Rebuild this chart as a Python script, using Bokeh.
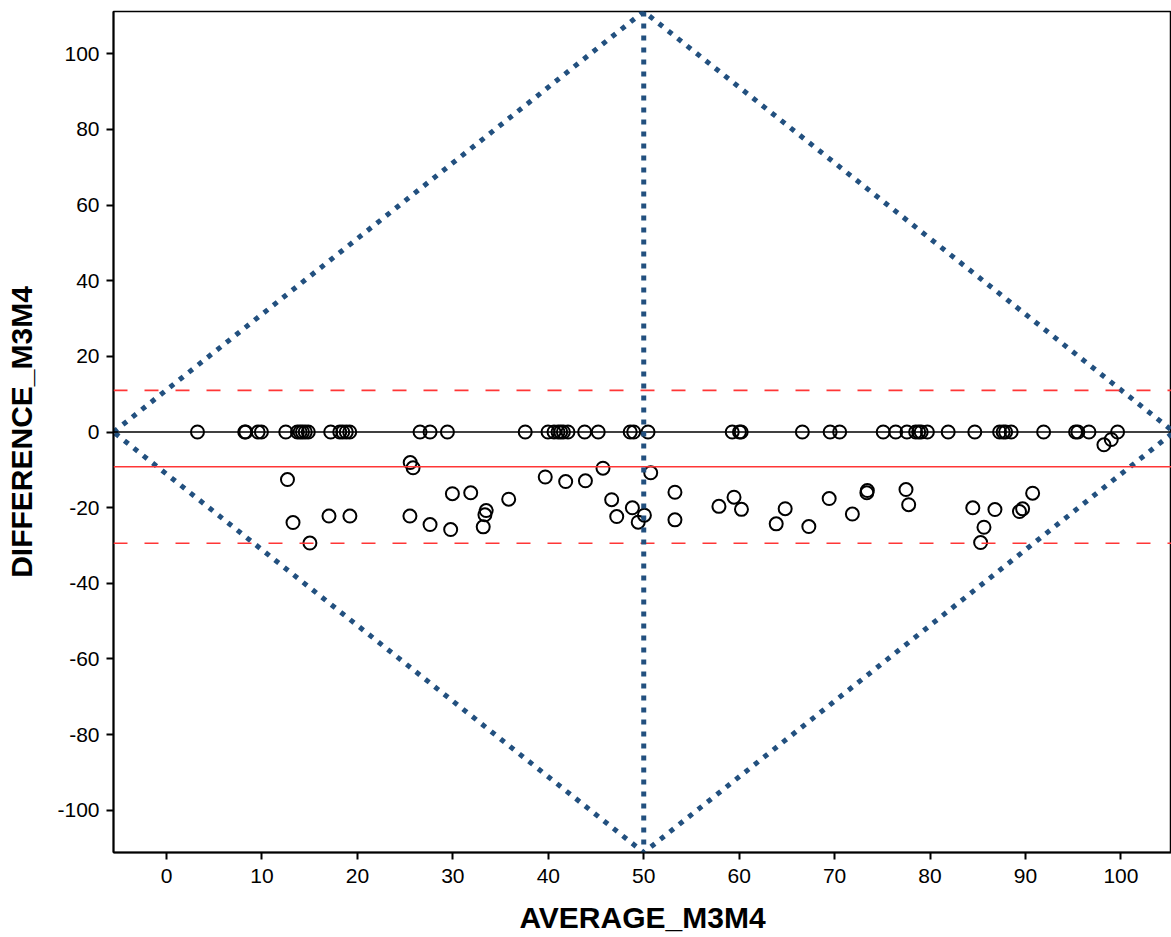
from bokeh.plotting import figure
from bokeh.models import Span, FixedTicker, Range1d, PrintfTickFormatter
from bokeh.embed import file_html
from bokeh.resources import INLINE

# ---- data ----
avg_zero = [3.24, 8.19, 8.30, 9.59, 9.94, 12.49, 13.71, 13.99, 14.24, 14.53, 14.85,
            17.20, 18.15, 18.46, 18.83, 19.19, 26.56, 27.61, 29.43, 37.58, 39.97,
            40.60, 41.02, 41.30, 41.58, 42.06, 43.81, 45.23, 48.58, 48.95, 50.45,
            59.27, 60.03, 60.21, 66.62, 69.53, 70.53, 75.09, 76.40, 77.58, 78.49,
            78.81, 79.07, 79.72, 81.90, 84.69, 87.29, 87.66, 87.92, 88.50, 91.90,
            95.25, 95.49, 96.65, 99.65]
diff_zero = [0.0] * len(avg_zero)

avg_other = [98.22, 98.99,
             12.67, 13.25, 15.02, 17.02, 19.21, 25.53, 25.83, 25.50, 27.61, 29.77,
             29.95, 31.87, 33.49, 33.36, 33.18, 35.85, 39.68, 41.82, 43.89, 45.73,
             46.64, 47.17, 48.81, 49.42, 50.07, 50.73, 53.27, 53.27, 57.88, 59.46,
             60.24, 63.88, 64.82, 67.30, 69.43, 71.86, 73.43, 73.38, 77.48, 77.76,
             84.48, 85.65, 85.30, 86.80, 89.37, 89.70, 90.75]
diff_other = [-3.39, -1.98,
              -12.57, -23.94, -29.37, -22.22, -22.22, -8.07, -9.47, -22.22, -24.47, -25.79,
              -16.32, -16.08, -20.77, -21.90, -25.08, -17.78, -11.90, -13.10, -12.91, -9.58,
              -17.91, -22.35, -20.05, -23.86, -22.01, -10.79, -15.93, -23.23, -19.66, -17.25,
              -20.45, -24.29, -20.29, -25.00, -17.59, -21.69, -15.48, -16.08, -15.21, -19.23,
              -20.05, -25.19, -29.23, -20.50, -21.03, -20.32, -16.19]

mean_diff = -9.2
upper_loa = 11.0
lower_loa = -29.4

diamond_x = [-5.56, 50.0, 105.56, 50.0, -5.56]
diamond_y = [0.0, 111.2, 0.0, -111.2, 0.0]
center_x = 50.0

x_ticks = [0, 10, 20, 30, 40, 50, 60, 70, 80, 90, 100]
y_ticks = [-100, -80, -60, -40, -20, 0, 20, 40, 60, 80, 100]

FONT = "Liberation Sans"
BLUE = "#22507f"
RED = "#ff3636"

p = figure(width=1171, height=937, output_backend="svg", toolbar_location=None,
           x_range=Range1d(-5.56, 105.3), y_range=Range1d(-111.2, 111.2),
           min_border_left=113, min_border_right=0, min_border_top=11,
           min_border_bottom=85)
p.background_fill_color = "white"
p.border_fill_color = "white"
p.outline_line_color = "black"
p.outline_line_width = 1.5
p.xgrid.visible = False
p.ygrid.visible = False

for ax in (p.xaxis[0], p.yaxis[0]):
    ax.axis_line_color = "black"
    ax.axis_line_width = 2
    ax.major_tick_line_color = "black"
    ax.major_tick_line_width = 2
    ax.major_tick_out = 7
    ax.major_tick_in = 0
    ax.minor_tick_line_color = None
    ax.formatter = PrintfTickFormatter(format="%d")
    ax.major_label_text_font = FONT
    ax.major_label_text_font_size = "21px"
    ax.major_label_text_color = "black"
    ax.axis_label_text_font = FONT
    ax.axis_label_text_font_size = "30px"
    ax.axis_label_text_font_style = "bold"
    ax.axis_label_text_color = "black"

p.xaxis[0].ticker = FixedTicker(ticks=x_ticks)
p.yaxis[0].ticker = FixedTicker(ticks=y_ticks)
p.xaxis[0].axis_label = "AVERAGE_M3M4"
p.yaxis[0].axis_label = "DIFFERENCE_M3M4"
p.xaxis[0].major_label_standoff = 9
p.yaxis[0].major_label_standoff = 7
p.xaxis[0].axis_label_standoff = 15
p.yaxis[0].axis_label_standoff = 16

# reference lines
p.add_layout(Span(location=upper_loa, dimension="width", line_color=RED,
                  line_width=1.6, line_dash="14 17"))
p.add_layout(Span(location=lower_loa, dimension="width", line_color=RED,
                  line_width=1.6, line_dash="14 17"))
p.add_layout(Span(location=mean_diff, dimension="width", line_color=RED,
                  line_width=1.6))
p.add_layout(Span(location=0, dimension="width", line_color="black",
                  line_width=1.6))

# diamond and centre line
p.line(diamond_x, diamond_y, line_color=BLUE, line_width=5,
       line_dash="5 7", line_cap="butt")
p.add_layout(Span(location=center_x, dimension="height", line_color=BLUE,
                  line_width=5, line_dash="5 7"))

# points
p.scatter(avg_zero, diff_zero, marker="circle", size=13, fill_color=None,
          line_color="black", line_width=2)
p.scatter(avg_other, diff_other, marker="circle", size=13, fill_color=None,
          line_color="black", line_width=2)

open("out.html", "w").write(file_html(p, INLINE))
